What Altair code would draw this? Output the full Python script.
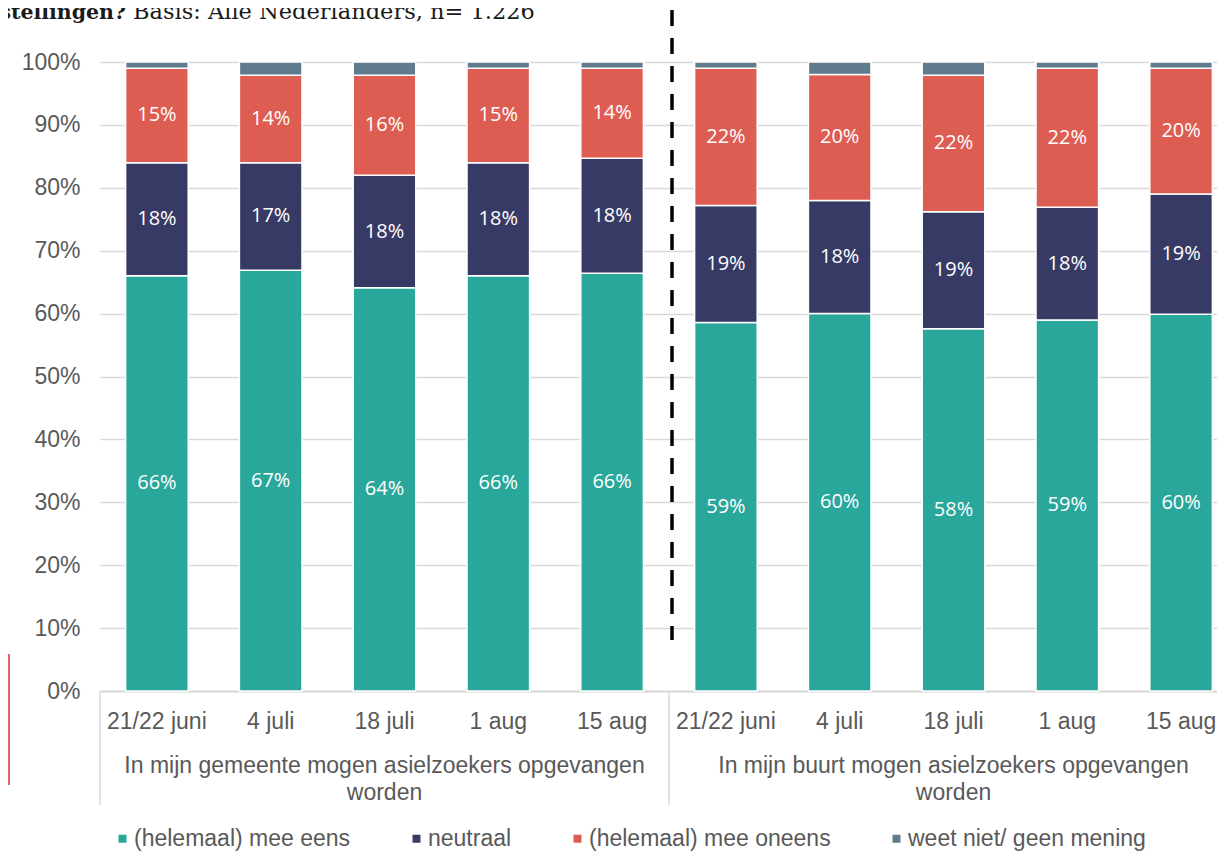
import altair as alt
import pandas as pd

# ---- data -------------------------------------------------------------
dates = ["21/22 juni", "4 juli", "18 juli", "1 aug", "15 aug"]
groups = [
    "In mijn gemeente mogen asielzoekers opgevangen\nworden",
    "In mijn buurt mogen asielzoekers opgevangen\nworden",
]
series = ["(helemaal) mee eens", "neutraal", "(helemaal) mee oneens", "weet niet/ geen mening"]
colors = ["#2aa79b", "#383a66", "#de5d53", "#607b8e"]

mee_eens = [66, 66.9, 64.1, 66, 66.4, 58.6, 60, 57.6, 59, 59.9]
neutraal = [18, 17.1, 17.9, 18, 18.3, 18.6, 18, 18.6, 17.9, 19.1]
mee_oneens = [15, 13.9, 15.9, 15, 14.3, 21.8, 20, 21.7, 22.1, 20]
weet_niet = [1, 2.1, 2.1, 1, 1, 1, 2, 2.1, 1, 1]

title_bold = "stellingen?"
title_rest = "Basis: Alle Nederlanders, n= 1.226"

keys = [f"{g}|{d}" for g in range(len(groups)) for d in dates]

rows = []
for i, k in enumerate(keys):
    for o, (s, vals) in enumerate(zip(series, [mee_eens, neutraal, mee_oneens, weet_niet])):
        rows.append({"key": k, "series": s, "value": vals[i], "order": o})
df = pd.DataFrame(rows)

sep_df = pd.DataFrame({"key": [keys[0], keys[len(dates)]]})
dash_df = pd.DataFrame({"key": [keys[len(dates)]]})
grp_df = pd.DataFrame({"key": [keys[2], keys[len(dates) + 2]], "label": groups})
one = pd.DataFrame({"a": [0]})

# ---- layout constants --------------------------------------------------
W, H = 1117, 629
XR = 1138
PI = 0.45
GAP = XR / len(keys) * PI / 2
FONT = "Liberation Sans"
GREY = "#595959"

xscale = alt.Scale(domain=keys, range=[0, XR], paddingInner=PI, paddingOuter=PI / 2)
yscale = alt.Scale(domain=[0, 100], nice=False)

x_axis = alt.Axis(
    labelExpr="split(datum.label,'|')[1]", labelAngle=0, labelFont=FONT,
    labelFontSize=23, labelColor=GREY, ticks=False, domainColor="#d9d9d9",
    domainWidth=2, labelPadding=19, title=None, grid=False,
)
y_axis = alt.Axis(
    values=list(range(0, 101, 10)), labelExpr="datum.value + '%'", labelFont=FONT,
    labelFontSize=23, labelColor=GREY, labelPadding=20, ticks=False, domain=False,
    gridColor="#d9d9d9", gridWidth=1.5, title=None,
)

X = alt.X("key:N", scale=xscale, axis=x_axis, title=None)

bars = alt.Chart(df).mark_bar(stroke="white", strokeWidth=1.5).encode(
    x=X,
    y=alt.Y("value:Q", stack="zero", scale=yscale, axis=y_axis, title=None),
    color=alt.Color(
        "series:N",
        scale=alt.Scale(domain=series, range=colors),
        legend=alt.Legend(
            title=None, orient="none", legendX=11, legendY=765,
            direction="horizontal", columns=4, symbolType="square",
            symbolSize=64, symbolStrokeWidth=0, labelFont=FONT,
            labelFontSize=23, labelColor=GREY, labelOffset=0,
            columnPadding=54, padding=0, labelLimit=0,
        ),
    ),
    order=alt.Order("order:Q", sort="ascending"),
)

labels = (
    alt.Chart(df)
    .transform_stack(stack="value", groupby=["key"], as_=["y0", "y1"],
                     sort=[alt.SortField("order", order="ascending")])
    .transform_filter(alt.datum.order < 3)
    .transform_calculate(mid="(datum.y0 + datum.y1) / 2",
                         label="format(datum.value, '.0f') + '%'")
    .mark_text(color="white", font="Open Sans", fontSize=20, baseline="middle")
    .encode(
        x=X,
        y=alt.Y("mid:Q", scale=yscale, axis=y_axis, title=None),
        text="label:N",
    )
)

seps = alt.Chart(sep_df).mark_rule(color="#d9d9d9", strokeWidth=1.5, xOffset=-GAP).encode(
    x=alt.X("key:N", scale=xscale, axis=x_axis, title=None, bandPosition=0),
    y=alt.value(H),
    y2=alt.value(743),
)

dash = alt.Chart(dash_df).mark_rule(color="black", strokeWidth=3.5,
                                    strokeDash=[16, 12], xOffset=-GAP + 3).encode(
    x=alt.X("key:N", scale=xscale, axis=x_axis, title=None, bandPosition=0),
    y=alt.value(-52),
    y2=alt.value(578),
)

grp_text = alt.Chart(grp_df).mark_text(
    font=FONT, fontSize=23, color=GREY, lineBreak="\n", lineHeight=27, baseline="middle"
).encode(
    x=X,
    y=alt.value(703.5),
    text="label:N",
)

t_bold = alt.Chart(one).mark_text(
    text=title_bold, font="DejaVu Serif", fontWeight="bold", fontSize=20.5,
    align="right", baseline="alphabetic", color="#1a1a1a",
).encode(x=alt.value(26), y=alt.value(-43))

t_rest = alt.Chart(one).mark_text(
    text=title_rest, font="DejaVu Serif", fontSize=22.5,
    align="left", baseline="alphabetic", color="#1a1a1a",
).encode(x=alt.value(33), y=alt.value(-43))

red_line = alt.Chart(one).mark_rule(color="#e06666", strokeWidth=2).encode(
    x=alt.value(-91), y=alt.value(592), y2=alt.value(723)
)

chart = (
    alt.layer(bars, labels, seps, dash, grp_text, t_bold, t_rest, red_line)
    .properties(
        width=W, height=H,
        autosize=alt.AutoSizeParams(type="none"),
        padding={"left": 92, "top": 54, "right": 0, "bottom": 161},
        background="white",
    )
    .configure_view(stroke=None)
)

chart.save("out.html", embed_options={"renderer": "svg", "actions": False})
